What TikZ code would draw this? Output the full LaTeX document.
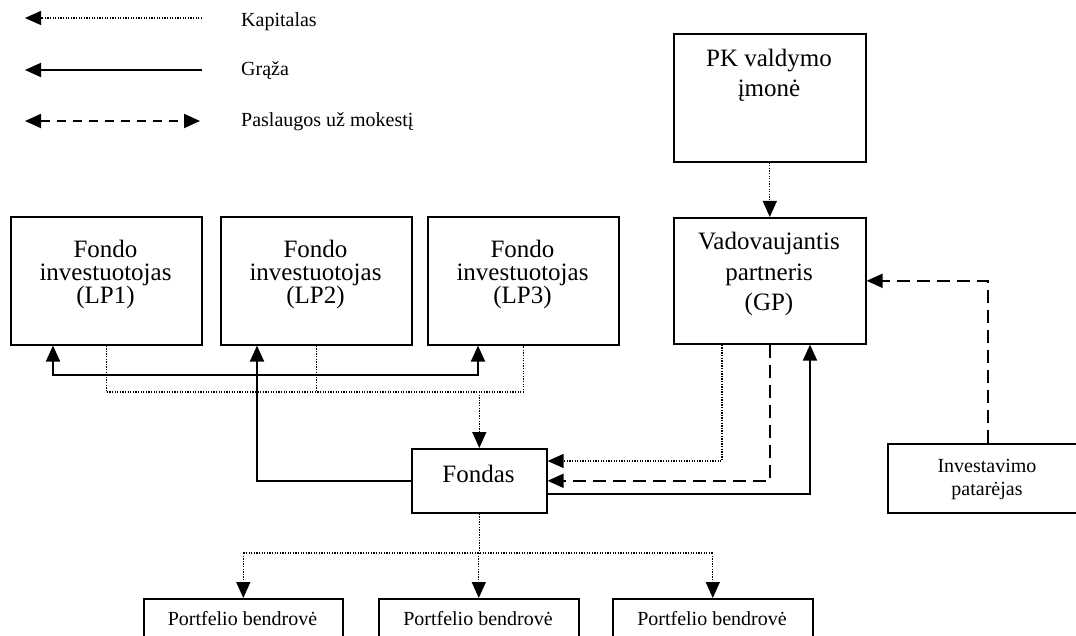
\documentclass[tikz,border=0pt]{standalone}
\usepackage{fontspec}
\setmainfont{Liberation Serif}
\usetikzlibrary{arrows.meta,calc}
\begin{document}
\begin{tikzpicture}[x=1pt,y=-1pt,
  box/.style={draw,line width=1.6pt,inner sep=0pt,anchor=north west},
  big/.style={font=\fontsize{25}{25}\selectfont,anchor=base,inner sep=0pt},
  small/.style={font=\fontsize{20}{20}\selectfont,anchor=base,inner sep=0pt},
  legtxt/.style={font=\fontsize{20}{20}\selectfont,anchor=base west,inner sep=0pt},
  tip/.style={-{Triangle[length=16pt,width=14pt]}},
  bothtips/.style={{Triangle[length=16pt,width=14pt]}-{Triangle[length=16pt,width=14pt]}},
  capl/.style={line width=1.3pt,dash pattern=on 1.3pt off 1.3pt},
  retl/.style={line width=1.9pt},
  feel/.style={line width=1.9pt,dash pattern=on 13pt off 7pt},
  legfee/.style={line width=1.9pt,dash pattern=on 9pt off 7pt},
]
\useasboundingbox (0,0) rectangle (1076,636);
\clip (0,0) rectangle (1076,636);

% legend
\coordinate (k1) at (25,18);  \coordinate (k2) at (202,18);
\coordinate (g1) at (25,70);  \coordinate (g2) at (202,70);
\coordinate (s1) at (25,121); \coordinate (s2) at (200,121);
\draw[capl,tip] (k2) -- (k1);
\draw[retl,tip] (g2) -- (g1);
\draw[legfee,bothtips] (s1) -- (s2);
\node[legtxt] (lk) at (241,27) {Kapitalas};
\node[legtxt] (lg) at (241,76) {Grąža};
\node[legtxt] (ls) at (241,127) {Paslaugos už mokestį};

% boxes
\node[box,minimum width=192pt,minimum height=128pt] (pk) at (673,33) {};
\node[box,minimum width=192pt,minimum height=126pt] (gp) at (673,217) {};
\node[box,minimum width=191pt,minimum height=128pt] (lp1) at (10,216) {};
\node[box,minimum width=191pt,minimum height=128pt] (lp2) at (220,216) {};
\node[box,minimum width=191pt,minimum height=128pt] (lp3) at (427,216) {};
\node[box,minimum width=135pt,minimum height=64pt] (fondas) at (411,448) {};
\node[box,minimum width=200pt,minimum height=69pt] (inv) at (887,443) {};
\node[box,minimum width=199pt,minimum height=50pt] (p1) at (143,598) {};
\node[box,minimum width=200pt,minimum height=50pt] (p2) at (378,598) {};
\node[box,minimum width=200pt,minimum height=50pt] (p3) at (612,598) {};

% texts
\node[big] (pkt1) at (769,67) {PK valdymo};
\node[big] (pkt2) at (769,97) {įmonė};
\node[big] (gpt1) at (769,250) {Vadovaujantis};
\node[big] (gpt2) at (769,280) {partneris};
\node[big] (gpt3) at (769,310) {(GP)};
\node[big] (l1a) at (105.5,258) {Fondo};
\node[big] (l1b) at (105.5,281) {investuotojas};
\node[big] (l1c) at (105.5,304) {(LP1)};
\node[big] (l2a) at (315.5,258) {Fondo};
\node[big] (l2b) at (315.5,281) {investuotojas};
\node[big] (l2c) at (315.5,304) {(LP2)};
\node[big] (l3a) at (522.5,258) {Fondo};
\node[big] (l3b) at (522.5,281) {investuotojas};
\node[big] (l3c) at (522.5,304) {(LP3)};
\node[big] (ft) at (478.5,482) {Fondas};
\node[small] (it1) at (987,472) {Investavimo};
\node[small] (it2) at (987,495) {patarėjas};
\node[small] (pt1) at (242.5,625) {Portfelio bendrovė};
\node[small] (pt2) at (478,625) {Portfelio bendrovė};
\node[small] (pt3) at (712,625) {Portfelio bendrovė};

% capital flows (dotted)
\draw[capl] (lp1.south) -- (lp1.south |- 0,392) -- (lp3.south |- 0,392) -- (lp3.south);
\draw[capl] (lp2.south) -- (lp2.south |- 0,392);
\draw[capl,tip] (fondas.north |- 0,392) -- (fondas.north);
\draw[capl,tip] (pk.south) -- (gp.north);
\draw[capl,tip] (722,0 |- gp.south) |- (fondas.east |- 0,461);
\draw[capl] (fondas.south) -- (fondas.south |- 0,553);
\draw[capl] (p1.north |- 0,553) -- (p3.north |- 0,553);
\draw[capl,tip] (p1.north |- 0,553) -- (p1.north);
\draw[capl,tip] (p2.north |- 0,553) -- (p2.north);
\draw[capl,tip] (p3.north |- 0,553) -- (p3.north);

% returns (solid)
\coordinate (r1) at (53,375);
\coordinate (r2) at (478,375);
\draw[retl,tip] (fondas.west) -| (257,0 |- lp2.south);
\draw[retl,bothtips] (r1 |- lp1.south) -- (r1) -- (r2) -- (r2 |- lp3.south);
\draw[retl,tip] (fondas.east |- 0,494) -| (810,0 |- gp.south);

% fees (dashed)
\draw[feel,tip] (gp.south) |- (fondas.east);
\draw[feel,tip] (inv.north) |- (gp.east);
\end{tikzpicture}
\end{document}
